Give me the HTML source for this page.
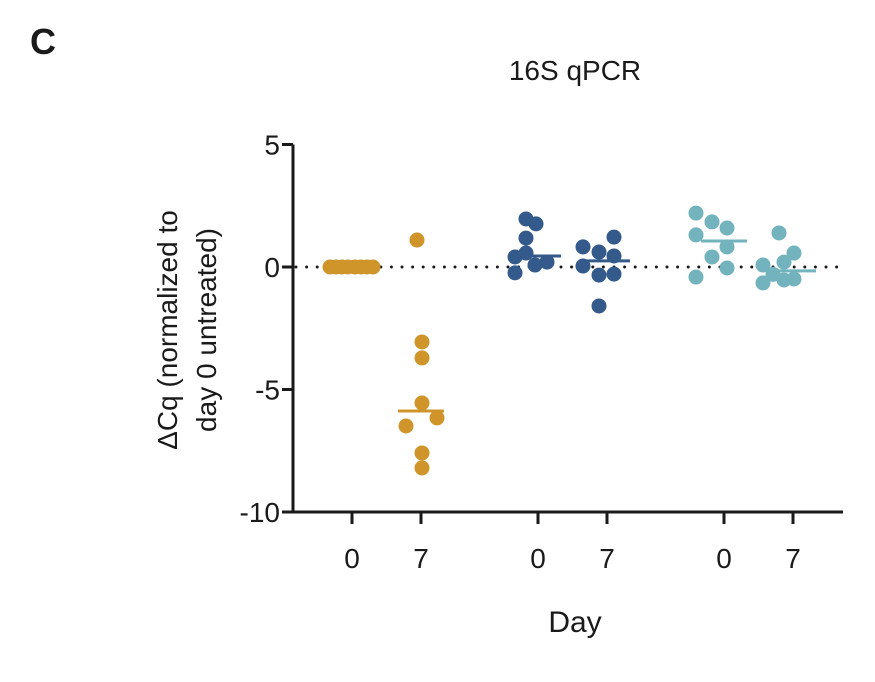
<!DOCTYPE html>
<html><head><meta charset="utf-8"><style>
body{margin:0;background:#fff;}
svg text{font-family:"Liberation Sans","DejaVu Sans",sans-serif;fill:#1a1a1a;}
</style></head><body>
<svg id="chart" width="875" height="677" viewBox="0 0 875 677" xmlns="http://www.w3.org/2000/svg">
<text x="30" y="54" font-size="36" font-weight="bold">C</text>
<text x="575" y="80" font-size="28" text-anchor="middle">16S qPCR</text>
<g transform="translate(0,330) rotate(-90)">
<text x="0" y="177" font-size="28" text-anchor="middle">ΔCq (normalized to</text>
<text x="0" y="216" font-size="28" text-anchor="middle">day 0 untreated)</text>
</g>
<text x="575" y="632" font-size="30" text-anchor="middle">Day</text>
<g id="axes"></g>
<g id="marks"></g>
</svg>
<script>
const yTicks=[5,0,-5,-10];
const yTickLabels=["5","0","-5","-10"];
const categories=["g1-d0","g1-d7","g2-d0","g2-d7","g3-d0","g3-d7"];
const xTickLabels=["0","7","0","7","0","7"];
const colors=["#d0952a","#d0952a","#335a8a","#335a8a","#72b3bd","#72b3bd"];
const g1d0=[0,0,0,0,0,0,0,0];
const g1d7=[1.1,-3.06,-3.71,-5.55,-6.49,-6.16,-7.59,-8.2];
const g2d0=[1.96,1.76,1.18,0.41,0.57,0.08,0.2,-0.24];
const g2d7=[0.82,1.22,0.61,0.45,0.04,-0.33,-0.29,-1.59];
const g3d0=[2.2,1.84,1.59,1.31,0.82,0.41,-0.04,-0.41];
const g3d7=[1.39,0.57,0.08,0.2,-0.65,-0.53,-0.49,-0.3];
const centers=[0,-5.88,0.45,0.25,1.06,-0.16];
const seriesValues=[g1d0,g1d7,g2d0,g2d7,g3d0,g3d7];
const jitter=[[-22,-16,-10,-4,3,9,15,21],[-4,1,1,1,-15,16,1,1],[-12,-2,-12,-23,-12,-3,9,-23],[-24,7,-8,7,-24,-8,7,-8],[-28,-12,3,-28,3,-12,3,-28],[-14,1,-30,-9,-30,-9,1,-20]];
const xPos=[352,421,538,607,724,793];
const NS="http://www.w3.org/2000/svg";
function y(v){return 267-v*24.5;}
function x(i){return xPos[i];}
function mk(tag,attrs,parent){const e=document.createElementNS(NS,tag);for(const k in attrs)e.setAttribute(k,attrs[k]);parent.appendChild(e);return e;}
const axes=document.getElementById('axes'),marks=document.getElementById('marks');
let e=mk('line',{x1:293,y1:y(5),x2:293,y2:y(-10)+1.5,stroke:'#1a1a1a','stroke-width':3},axes);


e=mk('line',{x1:291.5,y1:y(-10),x2:843,y2:y(-10),stroke:'#1a1a1a','stroke-width':3},axes);


e=mk('line',{x1:296,y1:y(0),x2:843,y2:y(0),stroke:'#1a1a1a','stroke-width':3,'stroke-dasharray':'0 10.6','stroke-linecap':'round'},axes);


yTicks.forEach((t,i)=>{
 let l=mk('line',{x1:282,y1:y(t),x2:293,y2:y(t),stroke:'#1a1a1a','stroke-width':3},axes);
 
 
 let tx=mk('text',{x:280,y:y(t)+10,'font-size':28,'text-anchor':'end'},axes);
 tx.textContent=yTickLabels[i];
 
 
});
categories.forEach((c,i)=>{
 let l=mk('line',{x1:x(i),y1:y(-10),x2:x(i),y2:y(-10)+12,stroke:'#1a1a1a','stroke-width':3},axes);
 
 
 let tx=mk('text',{x:x(i),y:568,'font-size':28,'text-anchor':'middle'},axes);
 tx.textContent=xTickLabels[i];
 
 
 seriesValues[i].forEach((v,j)=>{
  let p=mk('circle',{cx:x(i)+jitter[i][j],cy:y(v),r:7.5,fill:colors[i]},marks);
  
  
 });
 let m=mk('line',{x1:x(i)-23,y1:y(centers[i]),x2:x(i)+23,y2:y(centers[i]),stroke:colors[i],'stroke-width':3},marks);
 
 
});
</script>
</body></html>
